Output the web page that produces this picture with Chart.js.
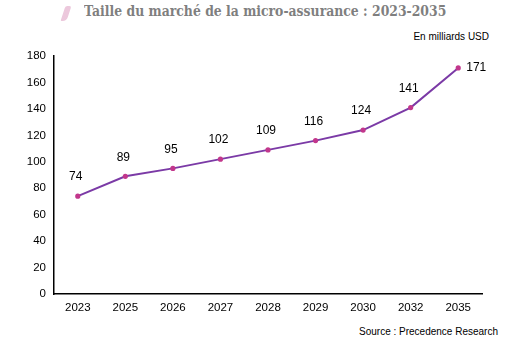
<!DOCTYPE html>
<html>
<head>
<meta charset="utf-8">
<script src="https://cdn.jsdelivr.net/npm/chart.js@4"></script>
<style>
body { margin:0; background:#fff; }
#wrap { position:relative; width:525px; height:340px; }
#title { position:absolute; left:84px; top:2px; font-family:"DejaVu Serif", serif; font-weight:bold; font-size:15px; color:#7f7f7f; white-space:nowrap; transform-origin:0 0; }
#mark { position:absolute; left:63px; top:6px; width:6px; height:15px; background:#ecc8dc; border-radius:2px 2px 4px 1px; transform:skewX(-18deg); }
#unit { position:absolute; right:36px; top:31px; font-family:"Liberation Sans", sans-serif; font-size:10px; color:#000; }
#src { position:absolute; right:27px; top:326px; font-family:"Liberation Sans", sans-serif; font-size:10px; color:#000; }
canvas { position:absolute; left:0; top:0; }
</style>
</head>
<body>
<div id="wrap">
<div id="mark"></div>
<div id="title">Taille du marché de la micro-assurance : 2023-2035</div>
<div id="unit">En milliards USD</div>
<div id="src">Source : Precedence Research</div>
<canvas id="myChart" width="525" height="340"></canvas>
</div>
<script>
const years = ['2023','2025','2026','2027','2028','2029','2030','2032','2035'];
const sizes = [74, 89, 95, 102, 109, 116, 124, 141, 171];

// squeeze title to the width it has in the picture
const title = document.getElementById('title');
title.style.transform = 'scaleX(' + (362 / title.offsetWidth) + ')';

// draws the value above each point (last one to the right)
const valueLabels = {
	id: 'valueLabels',
	afterDatasetsDraw(chart) {
		const ctx = chart.ctx;
		const meta = chart.getDatasetMeta(0);
		ctx.save();
		ctx.font = '12px "Liberation Sans", Arial, sans-serif';
		ctx.fillStyle = '#000';
		ctx.textBaseline = 'middle';
		meta.data.forEach((pt, i) => {
			if (i === meta.data.length - 1) {
				ctx.textAlign = 'left';
				ctx.fillText(sizes[i], pt.x + 8, pt.y);
			} else {
				ctx.textAlign = 'center';
				ctx.fillText(sizes[i], pt.x - 2, pt.y - 19);
			}
		});
		ctx.restore();
	}
};

const myChart = document.getElementById('myChart');
new Chart(myChart, {
	type: 'line',
	data: {
		labels: years,
		datasets: [{
			data: sizes,
			borderColor: '#7b3aa6',
			borderWidth: 2,
			pointRadius: 1.6,
			pointBackgroundColor: '#c2378c',
			pointBorderColor: '#c2378c',
			tension: 0
		}]
	},
	options: {
		responsive: false,
		animation: false,
		layout: { padding: { top: 56, right: 43, left: 0, bottom: 0 } },
		plugins: { legend: { display: false }, tooltip: { enabled: false } },
		scales: {
			x: {
				offset: true,
				grid: { display: false, drawTicks: false },
				border: { color: '#000', width: 1.5 },
				ticks: { color: '#000', font: { family: '"Liberation Sans", Arial', size: 11.5 }, padding: 7 },
				afterFit: s => { s.height = 46; }
			},
			y: {
				min: 0, max: 180,
				grid: { display: false, drawTicks: false },
				border: { color: '#000', width: 1.5 },
				ticks: { stepSize: 20, color: '#000', font: { family: '"Liberation Sans", Arial', size: 11.5 }, padding: 8 },
				afterFit: s => { s.width = 54; }
			}
		}
	},
	plugins: [valueLabels]
});
</script>
</body>
</html>
